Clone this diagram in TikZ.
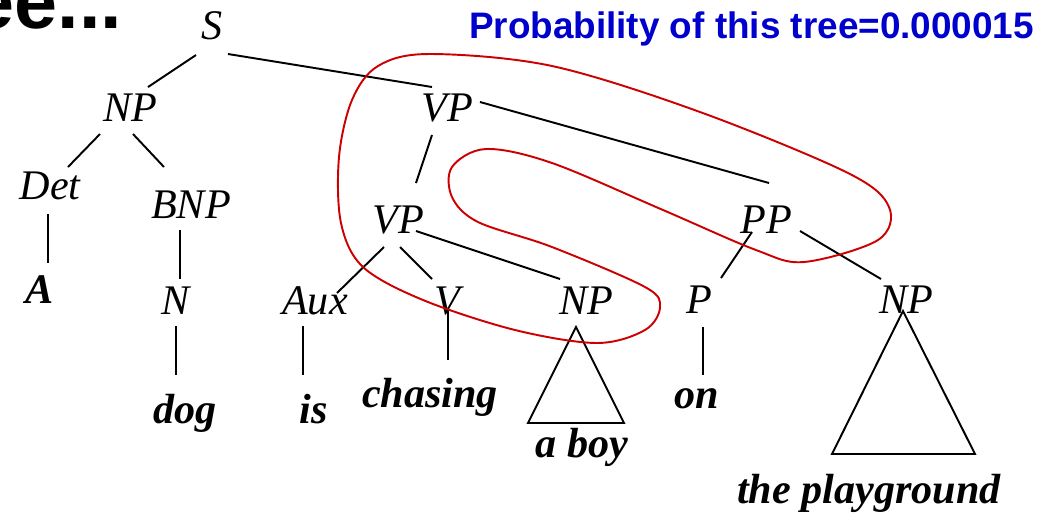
\documentclass[tikz,border=0pt]{standalone}
\usepackage{fontspec}
\setmainfont{Liberation Serif}
\newfontfamily\headfont{Liberation Sans}
\usepackage{xcolor}
\usepackage{tikz}
\definecolor{probblue}{RGB}{0,0,204}
\definecolor{loopred}{RGB}{204,0,0}

\begin{document}
\begin{tikzpicture}[x=0.02cm,y=-0.02cm,line width=1.1pt,cat/.style={inner sep=0pt,anchor=base,font=\fontsize{24}{28}\selectfont\itshape},word/.style={cat,font=\fontsize{24}{28}\selectfont\bfseries\itshape},head/.style={inner sep=0pt,font=\headfont\bfseries\fontsize{21}{25}\selectfont},loop/.style={draw=loopred,line width=1.1pt}]
\useasboundingbox (0,0) rectangle (1055,515);
% heading bits
\node[head,anchor=base east,font=\headfont\bfseries\fontsize{44}{48}\selectfont] (cut) at (123,28) {ee...};
\node[head,anchor=base east,text=probblue] (prob) at (1035,38) {Probability of this tree=0.000015};
% categories
\node[cat] (s) at (212,39) {S};
\node[cat] (np1) at (130,121) {NP};
\node[cat] (vp1) at (447,121) {VP};
\node[cat] (det) at (50,199) {Det};
\node[cat] (bnp) at (191,218) {BNP};
\node[cat] (vp2) at (398,233) {VP};
\node[cat] (pp) at (766,233) {PP};
\node[cat] (n) at (176,314) {N};
\node[cat] (aux) at (315,314) {Aux};
\node[cat] (v) at (447,314) {V};
\node[cat] (np2) at (586,314) {NP};
\node[cat] (p) at (699,313) {P};
\node[cat] (np3) at (906,313) {NP};
% words
\node[word] (a) at (40,303) {A};
\node[word] (dog) at (185,423) {dog};
\node[word] (is) at (314,423) {is};
\node[word] (chasing) at (430,407) {chasing};
\node[word] (aboy) at (582,457) {a boy};
\node[word] (on) at (697,408) {on};
\node[word] (pg) at (869,503) {the playground};
% branches
\draw ([shift={(-16,16)}]s.base) -- ([shift={(18,-34)}]np1.base);
\draw ([shift={(16,15)}]s.base) -- ([shift={(-15,-34)}]vp1.base);
\draw ([shift={(-30,13)}]np1.base) -- ([shift={(18,-32)}]det.base);
\draw ([shift={(3,13)}]np1.base) -- ([shift={(-27,-51)}]bnp.base);
\draw ([shift={(-2,15)}]det.base) -- ([shift={(8,-40)}]a.base);
\draw ([shift={(-11,12)}]bnp.base) -- ([shift={(4,-35)}]n.base);
\draw ([shift={(0,12)}]n.base) -- ([shift={(-9,-48)}]dog.base);
\draw ([shift={(-12,12)}]aux.base) -- ([shift={(-11,-48)}]is.base);
\draw ([shift={(-15,14)}]vp1.base) -- ([shift={(18,-50)}]vp2.base);
\draw ([shift={(33,-19)}]vp1.base) -- ([shift={(3,-50)}]pp.base);
\draw ([shift={(-14,14)}]vp2.base) -- ([shift={(22,-21)}]aux.base);
\draw ([shift={(2,14)}]vp2.base) -- ([shift={(-15,-35)}]v.base);
\draw ([shift={(18,-2)}]vp2.base) -- ([shift={(-26,-35)}]np2.base);
\draw ([shift={(1,-4)}]v.base) -- ([shift={(18,-47)}]chasing.base);
\draw ([shift={(-14,-1)}]pp.base) -- ([shift={(22,-35)}]p.base);
\draw ([shift={(34,-2)}]pp.base) -- ([shift={(-25,-34)}]np3.base);
\draw ([shift={(4,14)}]p.base) -- ([shift={(6,-33)}]on.base);
% roofs
\draw ([shift={(-10,13)}]np2.base) -- ++(-48,96) -- ++(96,0) -- cycle;
\draw ([shift={(-3,-2)}]np3.base) -- ++(-71,143) -- ++(143,0) -- cycle;
% the loop
\draw[loop] plot[smooth cycle,tension=0.55] coordinates {(378,66) (430,54) (552,66) (700,112) (848,173) (889,207) (878,240) (804,262) (756,250) (663,210) (552,163) (486,149) (452,167) (452,197) (478,222) (552,247) (645,287) (660,307) (645,330) (597,343) (515,330) (423,300) (363,267) (341,223) (339,157) (352,100)};
\end{tikzpicture}
\end{document}
